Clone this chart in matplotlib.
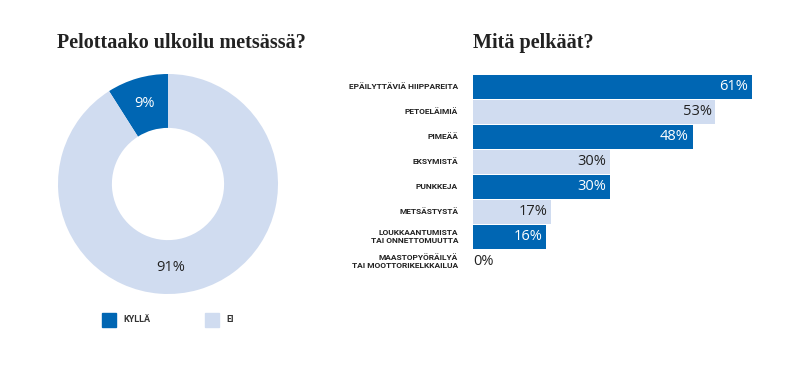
import numpy as np
import matplotlib.pyplot as plt

# data
pie_labels = ['KYLLÄ', 'EI']
pie_values = [9, 91]
categories = ['EPÄILYTTÄVIÄ HIIPPAREITA', 'PETOELÄIMIÄ', 'PIMEÄÄ', 'EKSYMISTÄ',
              'PUNKKEJA', 'METSÄSTYSTÄ', 'LOUKKAANTUMISTA\nTAI ONNETTOMUUTTA',
              'MAASTOPYÖRÄILYÄ\nTAI MOOTTORIKELKKAILUA']
values = [61, 53, 48, 30, 30, 17, 16, 0]

dark = '#0066b3'
light = '#d0dcf0'
W, H = 799, 369

def box(x0, y0, x1, y1):
    # pixel box (top-left origin) -> figure fraction
    return [x0 / W, 1 - y1 / H, (x1 - x0) / W, (y1 - y0) / H]

fig = plt.figure(figsize=(W / 100, H / 100), dpi=100)
fig.patch.set_facecolor('white')

# titles
fig.text(57 / W, 1 - 48 / H, 'Pelottaako ulkoilu metsässä?', fontsize=14.5,
         family='Liberation Serif', fontweight='bold', va='baseline', ha='left',
         color='#222222')
fig.text(473 / W, 1 - 48 / H, 'Mitä pelkäät?', fontsize=14.5,
         family='Liberation Serif', fontweight='bold', va='baseline', ha='left',
         color='#222222')

# donut
ax1 = fig.add_axes(box(58, 74, 278, 294))
wedges, _ = ax1.pie(pie_values, colors=[dark, light], startangle=90,
                    counterclock=True, radius=1,
                    wedgeprops=dict(width=0.49, linewidth=0))
ax1.set_xlim(-1, 1)
ax1.set_ylim(-1, 1)
ax1.set_aspect('equal')
# label angles: small slice at its middle, big slice at the bottom
ang9 = np.deg2rad((wedges[0].theta1 + wedges[0].theta2) / 2)
ax1.text(0.76 * np.cos(ang9), 0.76 * np.sin(ang9), f'{pie_values[0]}%',
         ha='center', va='center', fontsize=10.5, family='Open Sans', color='white')
ax1.text(0.02, -0.755, f'{pie_values[1]}%', ha='center', va='center',
         fontsize=10.5, family='Open Sans', color='#222222')

# legend
for (x, lab, col) in [(102, pie_labels[0], dark), (205, pie_labels[1], light)]:
    fig.patches.append(plt.Rectangle((x / W, 1 - 327 / H), 14 / W, 14 / H,
                                     transform=fig.transFigure, color=col))
    fig.text((x + 21) / W, 1 - 320 / H, lab, fontsize=6.5, family='Roboto',
             fontweight='bold', va='center', ha='left', color='#333333')

# bars
ax2 = fig.add_axes(box(473, 74, 752, 274))
y = np.arange(len(categories))
cols = [dark if i % 2 == 0 else light for i in y]
ax2.barh(y, values, height=0.96, color=cols, linewidth=0)
ax2.set_xlim(0, 61)
ax2.set_ylim(len(categories) - 0.5, -0.5)
ax2.axis('off')
for yi, v, c in zip(y, values, cols):
    if v > 0:
        ax2.text(v - 0.8, yi, f'{v}%', ha='right', va='center', fontsize=10.5,
                 family='Open Sans', color='white' if c == dark else '#222222')
    else:
        ax2.text(0, yi, f'{v}%', ha='left', va='center', fontsize=10.5,
                 family='Open Sans', color='#222222')
    ax2.text(-15 / 279 * 61, yi, categories[yi], ha='right', va='center',
             fontsize=6, family='Roboto', fontweight='bold', color='#222222',
             linespacing=1.25)

fig.savefig('out.png', dpi=100)
